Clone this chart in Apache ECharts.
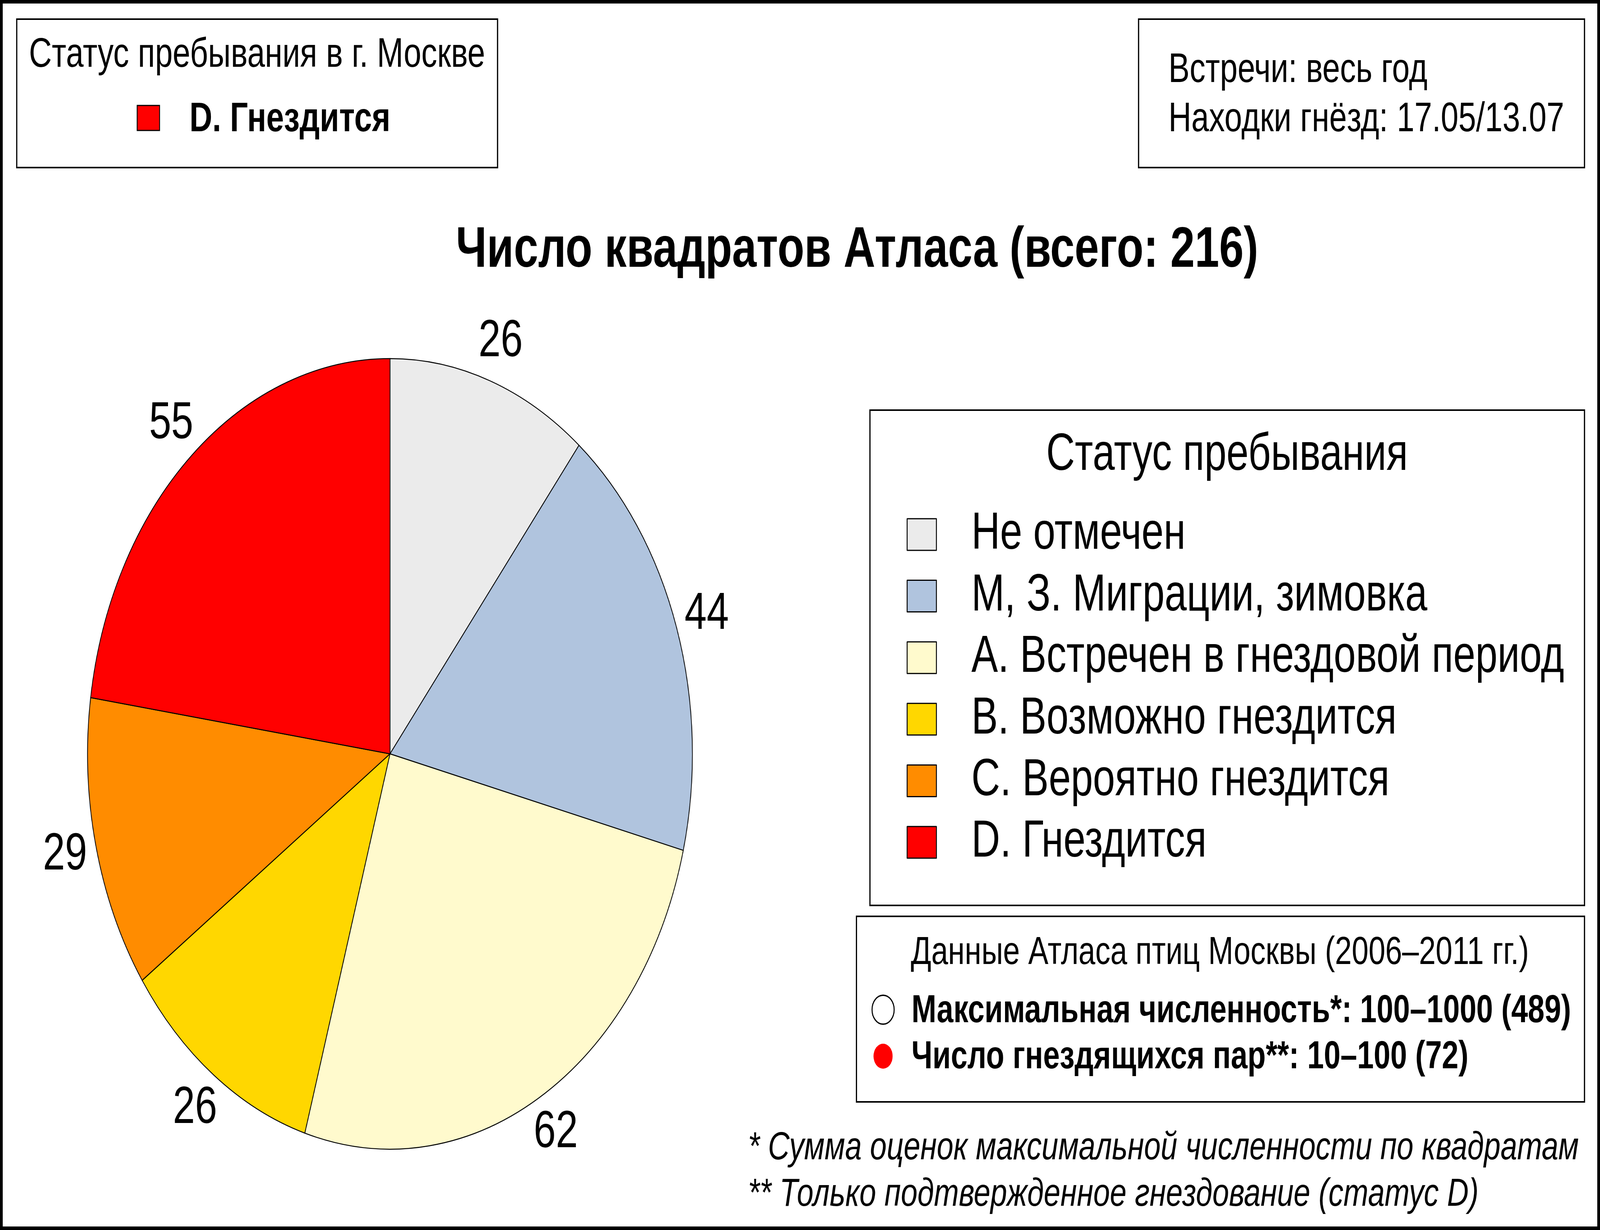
<!DOCTYPE html>
<html>
<head>
<meta charset="utf-8">
<script src="https://cdn.jsdelivr.net/npm/echarts@6/dist/echarts.min.js"></script>
<style>
html,body{margin:0;padding:0;background:#fff;overflow:hidden;width:100%;height:100%}
#wrap{position:absolute;left:0;top:0;width:100vw;height:100vh;overflow:hidden}
#c{position:absolute;left:0;top:0;width:5354px;height:3149px;transform-origin:0 0}
</style>
</head>
<body>
<div id="wrap"><div id="c"></div></div>
<script>
// ---- data ----
const categories = ['Не отмечен', 'M, З. Миграции, зимовка', 'A. Встречен в гнездовой период', 'B. Возможно гнездится', 'C. Вероятно гнездится', 'D. Гнездится'];
const values = [26, 44, 62, 26, 29, 55];
const colors = ['#EBEBEB', '#B0C4DE', '#FFFACD', '#FFD700', '#FF8C00', '#FF0000'];
const chartTitle = 'Число квадратов Атласа (всего: 216)';
const legendTitle = 'Статус пребывания';
const statusTitle = 'Статус пребывания в г. Москве';
const statusValue = 'D. Гнездится';
const infoLines = ['Встречи: весь год', 'Находки гнёзд: 17.05/13.07'];
const atlasTitle = 'Данные Атласа птиц Москвы (2006–2011 гг.)';
const atlasLines = ['Максимальная численность*: 100–1000 (489)', 'Число гнездящихся пар**: 10–100 (72)'];
const footnotes = ['* Сумма оценок максимальной численности по квадратам', '** Только подтвержденное гнездование (статус D)'];

// design size 5354x3149; fit into the actual window
const DW = 5354, DH = 3149;
const el = document.getElementById('c');
const sx = (window.innerWidth || DW) / DW, sy = (window.innerHeight || DH) / DH;
el.style.transform = 'scale(' + sx + ',' + sy + ')';

const FF = '"Liberation Sans", Arial, sans-serif';
const chart = echarts.init(el, null, {renderer: 'canvas', width: DW, height: DH});

function txt(x, baseline, text, fs, opt) {
  opt = opt || {};
  return {
    type: 'text', silent: true, z: 10,
    style: {
      x: x, y: baseline - 0.33 * fs, text: text,
      font: (opt.italic ? 'italic ' : '') + (opt.bold ? 'bold ' : '') + fs + 'px ' + FF,
      fill: '#000', align: opt.align || 'left', verticalAlign: 'middle'
    }
  };
}
function box(x1, y1, x2, y2, lw) {
  return {type: 'rect', silent: true, z: 5, shape: {x: x1, y: y1, width: x2 - x1, height: y2 - y1},
    style: {fill: 'none', stroke: '#000', lineWidth: lw || 4}};
}

const data = categories.map((n, i) => ({name: n, value: values[i], itemStyle: {color: colors[i]}}));
const labelData = categories.map((n, i) => ({name: n, value: values[i]}));

const graphics = [
  {type: 'rect', silent: true, z: 20, shape: {x: 4.5, y: 4.5, width: DW - 9, height: DH - 9},
    style: {fill: 'none', stroke: '#000', lineWidth: 9}},
  box(56, 49, 1665, 429),
  box(3810, 49, 5302, 429),
  box(2911, 1050, 5302, 2318),
  box(2866, 2346, 5302, 2821),
  txt(860, 177, statusTitle, 106, {align: 'center'}),
  {type: 'rect', silent: true, z: 10, shape: {x: 459, y: 270, width: 75, height: 64},
    style: {fill: colors[5], stroke: '#000', lineWidth: 3}},
  txt(634, 342, statusValue, 106, {bold: true}),
  txt(3910, 216, infoLines[0], 106),
  txt(3910, 342, infoLines[1], 106),
  txt(2868, 691, chartTitle, 147, {bold: true, align: 'center'}),
  txt(4106, 1210, legendTitle, 133, {align: 'center'}),
  txt(4082, 2473, atlasTitle, 101, {align: 'center'}),
  {type: 'circle', silent: true, z: 10, shape: {cx: 2955, cy: 2585, r: 37}, style: {fill: '#fff', stroke: '#000', lineWidth: 3.5}},
  txt(3050, 2622, atlasLines[0], 100, {bold: true}),
  {type: 'circle', silent: true, z: 10, shape: {cx: 2955, cy: 2704, r: 32}, style: {fill: '#FF0000', stroke: 'none'}},
  txt(3050, 2740, atlasLines[1], 100, {bold: true}),
  txt(2503, 2973, footnotes[0], 100, {italic: true}),
  txt(2503, 3092, footnotes[1], 100, {italic: true})
];

chart.setOption({
  animation: false,
  backgroundColor: '#fff',
  legend: {
    show: true, orient: 'vertical', left: 3029, top: 1297,
    data: categories, selectedMode: false,
    icon: 'rect', itemWidth: 98, itemHeight: 81, itemGap: 24.6,
    itemStyle: {borderColor: '#000', borderWidth: 3},
    textStyle: {fontFamily: FF, fontSize: 133, color: '#000', lineHeight: 133, padding: [0, 0, 0, 112]}
  },
  series: [
    {
      type: 'pie', center: [1305, 1930], radius: [0, 1012], startAngle: 90, clockwise: true,
      silent: true, avoidLabelOverlap: false, label: {show: false}, labelLine: {show: false},
      itemStyle: {borderColor: '#000', borderWidth: 2.5},
      emphasis: {disabled: true},
      data: data
    },
    {
      type: 'pie', center: [1305, 1930], radius: [1065, 1165], startAngle: 90, clockwise: true,
      silent: true, avoidLabelOverlap: false, legendHoverLink: false,
      itemStyle: {color: 'rgba(0,0,0,0)', borderWidth: 0},
      label: {show: true, position: 'inside', rotate: 0, formatter: '{c}', fontFamily: FF, fontSize: 133,
        color: '#000', padding: [32, 0, 0, 0]},
      labelLine: {show: false},
      emphasis: {disabled: true},
      data: labelData
    }
  ],
  graphic: graphics
});
</script>
</body>
</html>
